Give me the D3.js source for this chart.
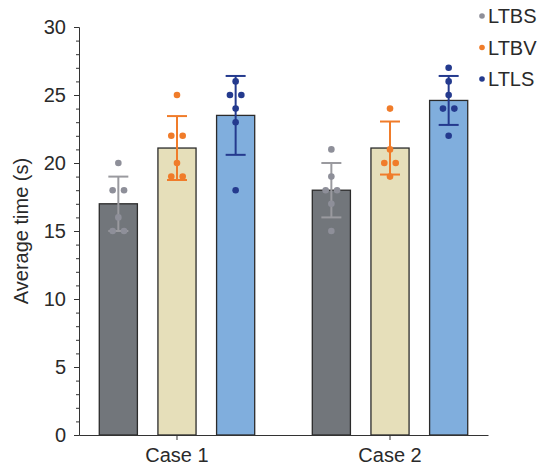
<!DOCTYPE html>
<html>
<head>
<meta charset="utf-8">
<script src="https://cdn.jsdelivr.net/npm/d3@7"></script>
<style>
  body { margin: 0; background: #fff; }
  text { font-family: "Liberation Sans", Arial, sans-serif; }
</style>
</head>
<body>
<div class="chart"></div>
<script>
var categories = ["Case 1", "Case 2"];
var series = ["LTBS", "LTBV", "LTLS"];

// bar heights (mean) and error bar half-lengths (sd)
var meanLTBS = [17, 18],
    meanLTBV = [21.1, 21.1],
    meanLTLS = [23.5, 24.6];
var sdLTBS = [2, 2],
    sdLTBV = [2.35, 1.95],
    sdLTLS = [2.9, 1.8];

// individual points
var ptsLTBS = [[20, 18, 18, 16, 15, 15], [21, 19, 18, 18, 17, 15]],
    ptsLTBV = [[25, 22, 22, 20, 19, 19], [24, 21, 20, 20, 19]],
    ptsLTLS = [[26, 25, 25, 24, 23, 18], [27, 26, 25, 24, 24, 22]];

var yTicks = [0, 5, 10, 15, 20, 25, 30];

var width = 539, height = 470;
// plot area (window.top is reserved, so no plain "top")
var plot = {left: 79, right: 488, top: 27, bottom: 435};

var means = {LTBS: meanLTBS, LTBV: meanLTBV, LTLS: meanLTLS};
var sds = {LTBS: sdLTBS, LTBV: sdLTBV, LTLS: sdLTLS};
var pts = {LTBS: ptsLTBS, LTBV: ptsLTBV, LTLS: ptsLTLS};

var barColor = d3.scaleOrdinal().domain(series).range(["#72767b", "#e6dfba", "#80aedd"]);
var dotColor = d3.scaleOrdinal().domain(series).range(["#8e8f99", "#f07c2a", "#243a8e"]);
var errColor = d3.scaleOrdinal().domain(series).range(["#9a9a9f", "#f07c2a", "#243a8e"]);

var x0 = d3.scaleBand().domain(categories).range([plot.left, plot.right])
    .paddingInner(0.174).paddingOuter(0.047);
var x1 = d3.scaleBand().domain(series).range([0, x0.bandwidth()])
    .paddingInner(0.35).paddingOuter(0.175);
var y = d3.scaleLinear().domain([0, 30]).range([plot.bottom, plot.top]);

var svg = d3.select(".chart").append("svg")
    .attr("width", width)
    .attr("height", height);

var rows = [];
categories.forEach(function(c, i) {
  series.forEach(function(s) {
    rows.push({cat: c, key: s, mean: means[s][i], sd: sds[s][i], pts: pts[s][i]});
  });
});

var groups = svg.append("g").selectAll("g")
  .data(rows)
  .enter().append("g")
    .attr("transform", function(d) { return "translate(" + (x0(d.cat) + x1(d.key)) + ",0)"; });

var bw = x1.bandwidth();

groups.append("rect")
    .attr("x", 0)
    .attr("y", function(d) { return y(d.mean); })
    .attr("width", bw)
    .attr("height", function(d) { return y(0) - y(d.mean); })
    .attr("fill", function(d) { return barColor(d.key); })
    .attr("stroke", "#2b2b2b")
    .attr("stroke-width", 1.3);

// error bars
groups.append("line")
    .attr("x1", bw / 2).attr("x2", bw / 2)
    .attr("y1", function(d) { return y(d.mean - d.sd); })
    .attr("y2", function(d) { return y(d.mean + d.sd); })
    .attr("stroke", function(d) { return errColor(d.key); })
    .attr("stroke-width", 2);

[-1, 1].forEach(function(sign) {
  groups.append("line")
      .attr("x1", bw / 2 - 10).attr("x2", bw / 2 + 10)
      .attr("y1", function(d) { return y(d.mean + sign * d.sd); })
      .attr("y2", function(d) { return y(d.mean + sign * d.sd); })
      .attr("stroke", function(d) { return errColor(d.key); })
      .attr("stroke-width", 2);
});

// points, equal values spread side by side
groups.each(function(d) {
  var counts = {}, seen = {};
  d.pts.forEach(function(v) { counts[v] = (counts[v] || 0) + 1; });
  var dots = d.pts.map(function(v) {
    var k = seen[v] || 0;
    seen[v] = k + 1;
    return {v: v, off: (k - (counts[v] - 1) / 2) * 11.4};
  });
  d3.select(this).selectAll("circle")
    .data(dots)
    .enter().append("circle")
      .attr("cx", function(p) { return bw / 2 + p.off; })
      .attr("cy", function(p) { return y(p.v); })
      .attr("r", 3.3)
      .attr("fill", dotColor(d.key));
});

// y axis
svg.append("g")
    .attr("transform", "translate(" + plot.left + ",0)")
    .call(d3.axisLeft(y).tickValues(d3.range(0, 31, 1)).tickSize(3).tickFormat("").tickSizeOuter(0))
    .call(function(g) { g.selectAll("line, path").attr("stroke", "#333"); });

svg.append("g")
    .attr("transform", "translate(" + plot.left + ",0)")
    .call(d3.axisLeft(y).tickValues(yTicks).tickSize(5).tickPadding(8).tickSizeOuter(0))
    .call(function(g) {
      g.selectAll("line, path").attr("stroke", "#333");
      g.selectAll("text").attr("font-size", 20).attr("fill", "#2a2a2a")
        .attr("font-family", "'Liberation Sans', Arial, sans-serif");
    });

// x axis
svg.append("g")
    .attr("transform", "translate(0," + plot.bottom + ")")
    .call(d3.axisBottom(x0).tickSize(5).tickPadding(8).tickSizeOuter(0))
    .call(function(g) {
      g.selectAll("line, path").attr("stroke", "#333");
      g.selectAll("text").attr("font-size", 20).attr("fill", "#2a2a2a")
        .attr("font-family", "'Liberation Sans', Arial, sans-serif");
    });

// y-axis label
svg.append("text")
    .attr("transform", "translate(28," + ((plot.top + plot.bottom) / 2) + ") rotate(-90)")
    .attr("text-anchor", "middle")
    .attr("font-size", 20)
    .attr("fill", "#2a2a2a")
    .text("Average time (s)");

// Legend
var legend = svg.append("g")
  .selectAll("g")
  .data(series)
  .enter().append("g")
    .attr("transform", function(d, i) { return "translate(482," + (16 + i * 31.5) + ")"; });

legend.append("circle")
    .attr("r", 2.8)
    .attr("fill", dotColor);

legend.append("text")
    .attr("x", 6)
    .attr("dy", "0.36em")
    .attr("font-size", 20)
    .attr("fill", "#2a2a2a")
    .text(function(d) { return d; });
</script>
</body>
</html>
